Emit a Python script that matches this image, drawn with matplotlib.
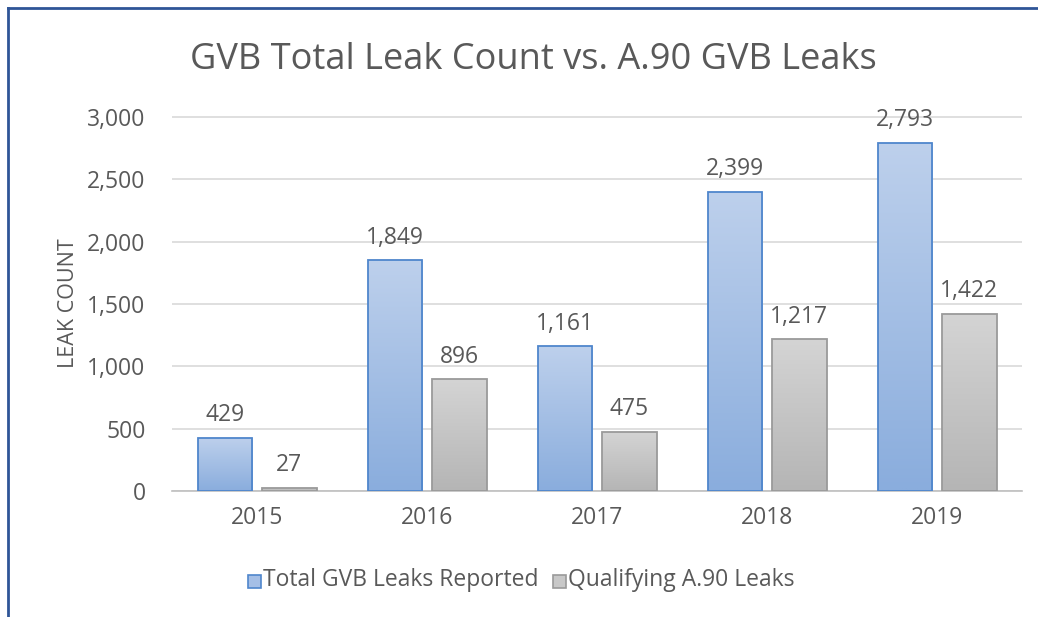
import numpy as np
import matplotlib.pyplot as plt
from matplotlib.patches import Rectangle

years = ["2015", "2016", "2017", "2018", "2019"]
total_leaks = [429, 1849, 1161, 2399, 2793]
a90_leaks = [27, 896, 475, 1217, 1422]

TXT = "#595959"
plt.rcParams['font.family'] = ['Open Sans', 'DejaVu Sans']

fig = plt.figure(figsize=(10.38, 6.17), dpi=100)
ax = fig.add_axes([172 / 1038, 1 - 491 / 617, 850 / 1038, 374 / 617 * 3250 / 3000])

x = np.arange(len(years))
w = 0.32
off = 0.19


def grad_bar(xc, h, c_top, c_bot, edge):
    # vertical gradient fill clipped to the bar rectangle
    if h <= 0:
        return
    rect = Rectangle((xc - w / 2, 0), w, h, facecolor="none", edgecolor=edge, lw=1.3, zorder=4)
    ax.add_patch(rect)
    g = np.linspace(0, 1, 64).reshape(-1, 1)
    ct = np.array(plt.matplotlib.colors.to_rgb(c_top))
    cb = np.array(plt.matplotlib.colors.to_rgb(c_bot))
    img = cb[None, None, :] * (1 - g[:, :, None]) + ct[None, None, :] * g[:, :, None]
    im = ax.imshow(img, extent=(xc - w / 2, xc + w / 2, 0, h), origin="lower",
                   aspect="auto", zorder=3, interpolation="bilinear")
    im.set_clip_path(rect)


for i in range(len(years)):
    grad_bar(x[i] - off, total_leaks[i], "#BDD0EC", "#8AADDD", "#4F86CC")
    grad_bar(x[i] + off, a90_leaks[i], "#D4D4D4", "#B5B5B5", "#9A9A9A")
    ax.text(x[i] - off, total_leaks[i] + 85, f"{total_leaks[i]:,}", ha="center", va="bottom",
            fontsize=16.5, color=TXT)
    ax.text(x[i] + off, a90_leaks[i] + 85, f"{a90_leaks[i]:,}", ha="center", va="bottom",
            fontsize=16.5, color=TXT)

ax.set_xlim(-0.5, len(years) - 0.5)
ax.set_ylim(0, 3250)
ax.set_yticks(np.arange(0, 3001, 500))
ax.set_yticklabels([f"{v:,}" for v in range(0, 3001, 500)])
ax.set_xticks(x)
ax.set_xticklabels(years)
ax.tick_params(axis="both", length=0, labelsize=16.5, labelcolor=TXT)
ax.tick_params(axis="y", pad=19)
ax.tick_params(axis="x", pad=11)
ax.grid(axis="y", color="#D9D9D9", lw=1.2, zorder=0)
ax.set_axisbelow(True)
for s in ["top", "right", "left"]:
    ax.spines[s].set_visible(False)
ax.spines["bottom"].set_color("#BFBFBF")
ax.spines["bottom"].set_linewidth(1.2)

fig.text(68 / 1038, 1 - 303 / 617, "LEAK COUNT", rotation=90, ha="center", va="center",
         fontsize=15.5, color=TXT)
fig.text(533 / 1038, 1 - 60 / 617, "GVB Total Leak Count vs. A.90 GVB Leaks", ha="center",
         va="center", fontsize=26, color=TXT)

# legend
for lx, lab, fc, ec in [(248, "Total GVB Leaks Reported", "#A5BFE6", "#4F86CC"),
                        (553, "Qualifying A.90 Leaks", "#C8C8C8", "#9A9A9A")]:
    fig.patches.append(Rectangle((lx / 1038, 1 - 588 / 617), 13 / 1038, 13 / 617,
                                 transform=fig.transFigure, facecolor=fc, edgecolor=ec, lw=1.2))
    fig.text((lx + 15) / 1038, 1 - 580 / 617, lab, ha="left", va="center", fontsize=16.5, color=TXT)

# outer border (left and top)
fig.add_artist(plt.Line2D([8 / 1038, 8 / 1038], [0, 1 - 8 / 617], transform=fig.transFigure,
                          color="#2F5597", lw=2))
fig.add_artist(plt.Line2D([8 / 1038, 1], [1 - 8 / 617, 1 - 8 / 617], transform=fig.transFigure,
                          color="#2F5597", lw=2))

fig.savefig("out.png", dpi=100)
